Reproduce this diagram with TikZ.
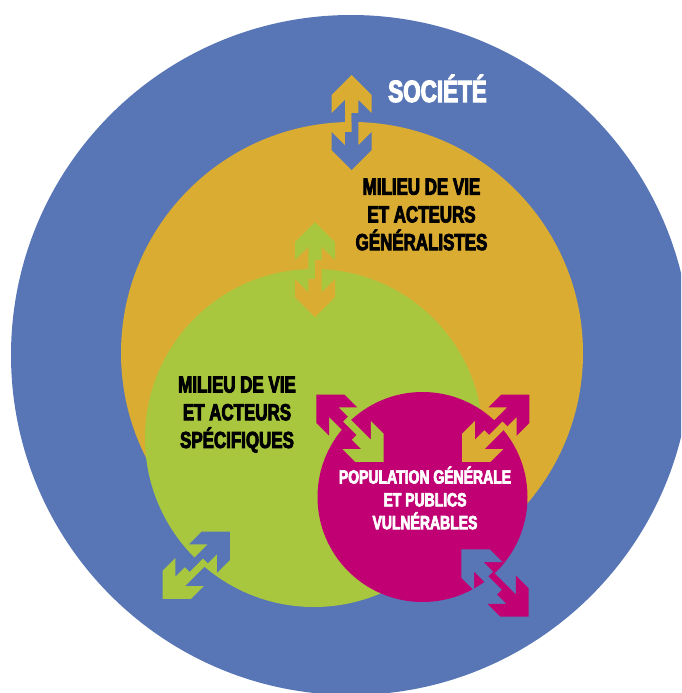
\documentclass[tikz,border=0pt]{standalone}
\usepackage{fontspec}
\newfontfamily\condfont{Liberation Sans Bold}[FakeStretch=0.73,FakeBold=3.6]

\definecolor{societe}{HTML}{5876B5}
\definecolor{milieu}{HTML}{DBAC32}
\definecolor{specif}{HTML}{A9C73E}
\definecolor{public}{HTML}{C00073}

\tikzset{
  circle label/.style={font=\condfont\fontsize{13.2}{15.8}\selectfont, align=center, inner sep=0pt},
  small label/.style={font=\condfont\fontsize{10.9}{13}\selectfont, align=center, inner sep=0pt, text=white},
}

% two-coloured double arrow: centre, angle, colour of head, colour of tail
\newcommand{\splitarrow}[4]{%
  \begin{scope}[shift={#1}, rotate=#2]
    \foreach \ang/\col in {0/#3, 180/#4}
      \fill[\col, rotate=\ang] (47.5,0) -- (27.5,20) -- (9.5,20) -- (22.8,6.7)
        -- (9.5,6.7) -- (9.5,0) -- (-9.5,0) -- (-9.5,-6.7) -- (22.8,-6.7)
        -- (9.5,-20) -- (27.5,-20) -- cycle;
  \end{scope}}

\begin{document}
\begin{tikzpicture}[x=0.02cm, y=-0.02cm]
\useasboundingbox (0,0) rectangle (681,693);
\clip (0,0) rectangle (681,693);

%circles
\fill[societe] (351,355) circle (340);
\fill[milieu] (352,353) circle (231);
\fill[specif] (314,438) circle (169);
\fill[public] (422.5,497) circle (105);

%arrows
\splitarrow{(351.7,122.5)}{90}{milieu}{societe}
\splitarrow{(315,269.7)}{90}{specif}{milieu}
\splitarrow{(350,428.3)}{135}{public}{specif}
\splitarrow{(495.8,428.3)}{45}{public}{milieu}
\splitarrow{(196.3,565.3)}{45}{societe}{specif}
\splitarrow{(495,583)}{-45}{public}{societe}

%labels
\node[circle label, font=\condfont\fontsize{17.5}{20}\selectfont, text=white, anchor=base]
  (soc) at (437.5,102) {SOCIÉTÉ};
\node[circle label] (gen) at (421.5,214.5) {MILIEU DE VIE\\ET ACTEURS\\GÉNÉRALISTES};
\node[circle label] (spec) at (237,414.5) {MILIEU DE VIE\\ET ACTEURS\\SPÉCIFIQUES};
\node[small label] (pop) at (425,498) {POPULATION GÉNÉRALE\\ET PUBLICS\\VULNÉRABLES};

\end{tikzpicture}
\end{document}
